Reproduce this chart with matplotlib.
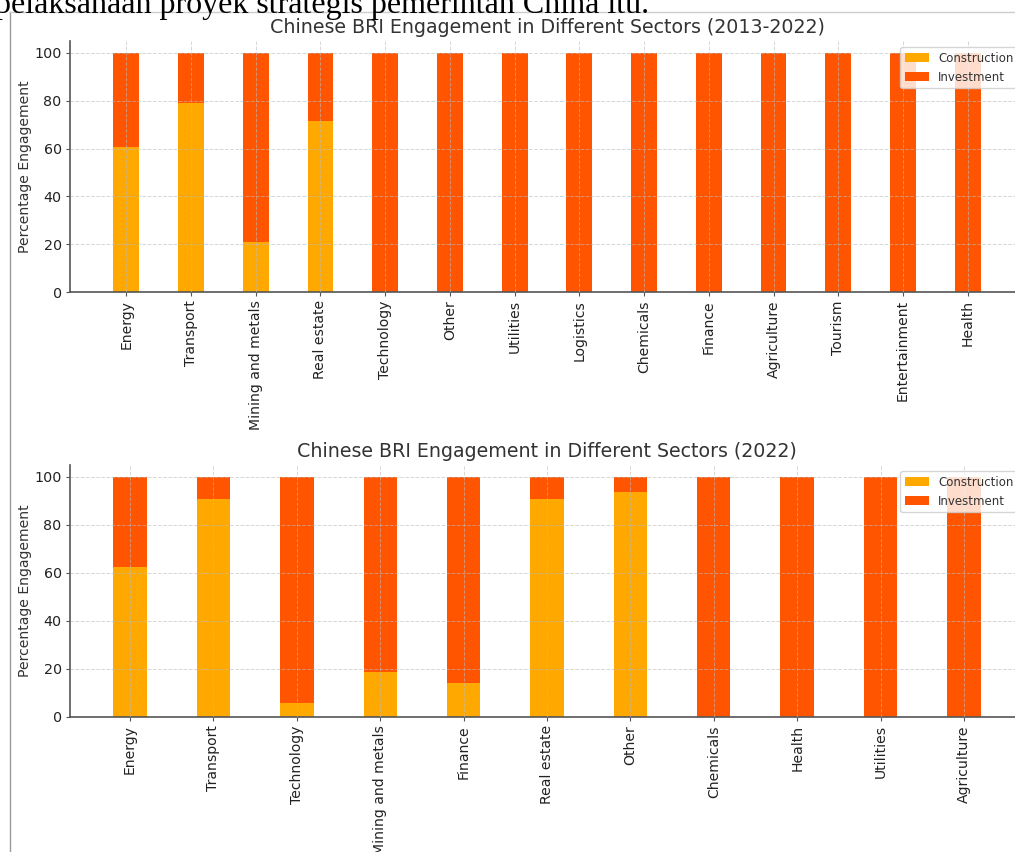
import numpy as np
import matplotlib.pyplot as plt
from matplotlib.lines import Line2D

# data
sectors_all = ["Energy", "Transport", "Mining and metals", "Real estate", "Technology",
               "Other", "Utilities", "Logistics", "Chemicals", "Finance",
               "Agriculture", "Tourism", "Entertainment", "Health"]
construction_all = [60.5, 79, 21, 71.5, 0, 0, 0, 0, 0, 0, 0, 0, 0, 0]

sectors_2022 = ["Energy", "Transport", "Technology", "Mining and metals", "Finance",
                "Real estate", "Other", "Chemicals", "Health", "Utilities", "Agriculture"]
construction_2022 = [62.5, 91, 5.7, 18.6, 14, 91, 93.7, 0, 0, 0, 0]

C_CONS = "#FFA800"
C_INV = "#FF5500"


def stacked_chart(ax, sectors, cons, title):
    cons = np.array(cons, dtype=float)
    inv = 100 - cons
    x = np.arange(len(sectors))
    ax.bar(x, cons, width=0.4, color=C_CONS, label="Construction")
    ax.bar(x, inv, width=0.4, bottom=cons, color=C_INV, label="Investment")
    ax.set_title(title, fontsize=13.7, color="#333333", pad=6)
    ax.set_ylabel("Percentage Engagement", fontsize=10.1, color="#333333", labelpad=2)
    ax.set_xticks(x)
    ax.set_xticklabels(sectors, rotation=90, fontsize=10.1, color="#222222")
    ax.tick_params(axis="y", labelsize=10.3, colors="#222222")
    ax.tick_params(axis="both", color="#555555", length=3, pad=3)
    ax.set_ylim(0, 105)
    ax.set_yticks([0, 20, 40, 60, 80, 100])
    ax.set_axisbelow(False)
    ax.grid(True, linestyle="--", color="#bbbbbb", linewidth=0.7, alpha=0.6)
    for s in ["top", "right"]:
        ax.spines[s].set_visible(False)
    for s in ["left", "bottom"]:
        ax.spines[s].set_color("#555555")
        ax.spines[s].set_linewidth(1.2)
    leg = ax.legend(loc="upper right", fontsize=8.5, framealpha=0.8)
    leg.get_frame().set_edgecolor("#cccccc")
    for t in leg.get_texts():
        t.set_color("#333333")


W, H = 1015, 852
fig = plt.figure(figsize=(W / 100, H / 100), dpi=100)

ax1 = fig.add_axes([70 / W, 1 - 292 / H, (1024 - 70) / W, (292 - 41) / H])
stacked_chart(ax1, sectors_all, construction_all,
              "Chinese BRI Engagement in Different Sectors (2013-2022)")

ax2 = fig.add_axes([70 / W, 1 - 717 / H, (1024 - 70) / W, (717 - 465) / H])
stacked_chart(ax2, sectors_2022, construction_2022,
              "Chinese BRI Engagement in Different Sectors (2022)")

# surrounding document: clipped text line and image border
fig.text(-5 / W, 1 - 13 / H, "pelaksanaan proyek strategis pemerintah China itu.",
         family="Liberation Serif", fontsize=23, va="baseline", ha="left")
fig.add_artist(Line2D([9.5 / W, 9.5 / W], [0, 1 - 12 / H], transform=fig.transFigure,
                      color="#999999", linewidth=1))
fig.add_artist(Line2D([9.5 / W, 1], [1 - 12 / H, 1 - 12 / H], transform=fig.transFigure,
                      color="#cccccc", linewidth=1))

fig.savefig("out.png", dpi=100)
